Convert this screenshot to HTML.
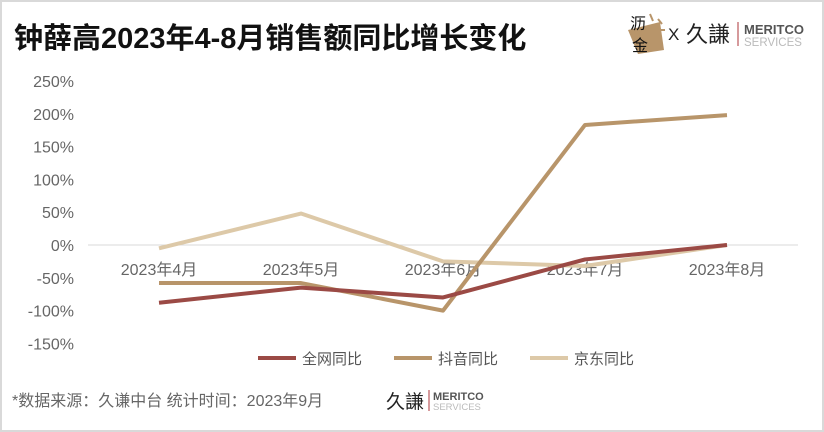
<!DOCTYPE html>
<html><head><meta charset="utf-8">
<style>
body{margin:0;background:#fff;}
#wrap{position:relative;width:820px;height:428px;border:2px solid #d9d9d9;background:#fff;overflow:hidden;font-family:"Liberation Sans","Noto Sans CJK SC",sans-serif;}
svg text{font-family:"Liberation Sans","Noto Sans CJK SC",sans-serif;}
</style></head><body>
<div id="wrap">
<svg id="chart" width="820" height="428" viewBox="2 2 820 428">
<text x="14" y="48" font-size="29" font-weight="bold" fill="#111">钟薛高2023年4-8月销售额同比增长变化</text>
<g>
<polygon points="628,30 660,22 664,50 638,54" fill="#b8956a"/>
<text x="630" y="29" font-size="16" fill="#111">沥</text>
<text x="632" y="51" font-size="16" fill="#111">金</text>
<line x1="650" y1="14" x2="653" y2="21" stroke="#b8956a" stroke-width="2"/>
<line x1="658" y1="19" x2="662" y2="24" stroke="#b8956a" stroke-width="2"/>
<line x1="657" y1="30" x2="665" y2="30" stroke="#b8956a" stroke-width="2"/>
<text x="668" y="40" font-size="17" fill="#222">X</text>
<text x="686" y="42" font-size="22" fill="#222">久謙</text>
<line x1="738" y1="22" x2="738" y2="46" stroke="#c8787a" stroke-width="1.5"/>
<text x="744" y="34" font-size="13" font-weight="bold" fill="#555">MERITCO</text>
<text x="744" y="46" font-size="11.5" fill="#bbb">SERVICES</text>
</g>
<g id="grid"></g><g id="lines"></g>
<g>
<line x1="258" y1="358" x2="296" y2="358" stroke="#9b4a45" stroke-width="4"/>
<text x="302" y="364" font-size="15" fill="#555">全网同比</text>
<line x1="394" y1="358" x2="432" y2="358" stroke="#b8956a" stroke-width="4"/>
<text x="438" y="364" font-size="15" fill="#555">抖音同比</text>
<line x1="530" y1="358" x2="568" y2="358" stroke="#ddc9a8" stroke-width="4"/>
<text x="574" y="364" font-size="15" fill="#555">京东同比</text>
</g>
<text x="12" y="406" font-size="16" fill="#666">*数据来源：久谦中台 统计时间：2023年9月</text>
<g>
<text x="386" y="408" font-size="19" fill="#222">久謙</text>
<line x1="429" y1="390" x2="429" y2="411" stroke="#c8787a" stroke-width="1.5"/>
<text x="433" y="400" font-size="11" font-weight="bold" fill="#555">MERITCO</text>
<text x="433" y="410" font-size="9.5" fill="#bbb">SERVICES</text>
</g>
</svg>
</div>
<script>
const categories=["2023年4月","2023年5月","2023年6月","2023年7月","2023年8月"];
const quanwang=[-88,-65,-80,-22,0];
const douyin=[-58,-58,-100,183,198];
const jingdong=[-5,48,-25,-32,0];
const yTicks=[250,200,150,100,50,0,-50,-100,-150];
const NS="http://www.w3.org/2000/svg";
const x0=88,step=142;
function xs(i){return x0+step*(i+0.5);}
function ys(v){return 245-v*0.656;}
const grid=document.getElementById('grid'),lines=document.getElementById('lines');
yTicks.forEach(t=>{
 const tx=document.createElementNS(NS,'text');
 tx.setAttribute('x',74);tx.setAttribute('y',ys(t)+6);tx.setAttribute('text-anchor','end');
 tx.setAttribute('font-size','16');tx.setAttribute('fill','#666');tx.textContent=t+'%';
 
 
 grid.appendChild(tx);
});
const ax=document.createElementNS(NS,'line');
ax.setAttribute('x1',x0);ax.setAttribute('x2',x0+step*5);ax.setAttribute('y1',ys(0));ax.setAttribute('y2',ys(0));
ax.setAttribute('stroke','#d9d9d9');ax.setAttribute('stroke-width','1');


grid.appendChild(ax);
categories.forEach((c,i)=>{
 const tx=document.createElementNS(NS,'text');
 tx.setAttribute('x',xs(i));tx.setAttribute('y',275);tx.setAttribute('text-anchor','middle');
 tx.setAttribute('font-size','16');tx.setAttribute('fill','#666');tx.textContent=c;
 
 
 grid.appendChild(tx);
});
function series(data,color,name){
 const p=document.createElementNS(NS,'polyline');
 p.setAttribute('points',data.map((v,i)=>xs(i)+','+ys(v)).join(' '));
 p.setAttribute('fill','none');p.setAttribute('stroke',color);p.setAttribute('stroke-width','4');
 p.setAttribute('stroke-linejoin','round');
 
 
 lines.appendChild(p);
}
series(jingdong,'#ddc9a8','jingdong-line');
series(douyin,'#b8956a','douyin-line');
series(quanwang,'#9b4a45','quanwang-line');
</script>
</body></html>
